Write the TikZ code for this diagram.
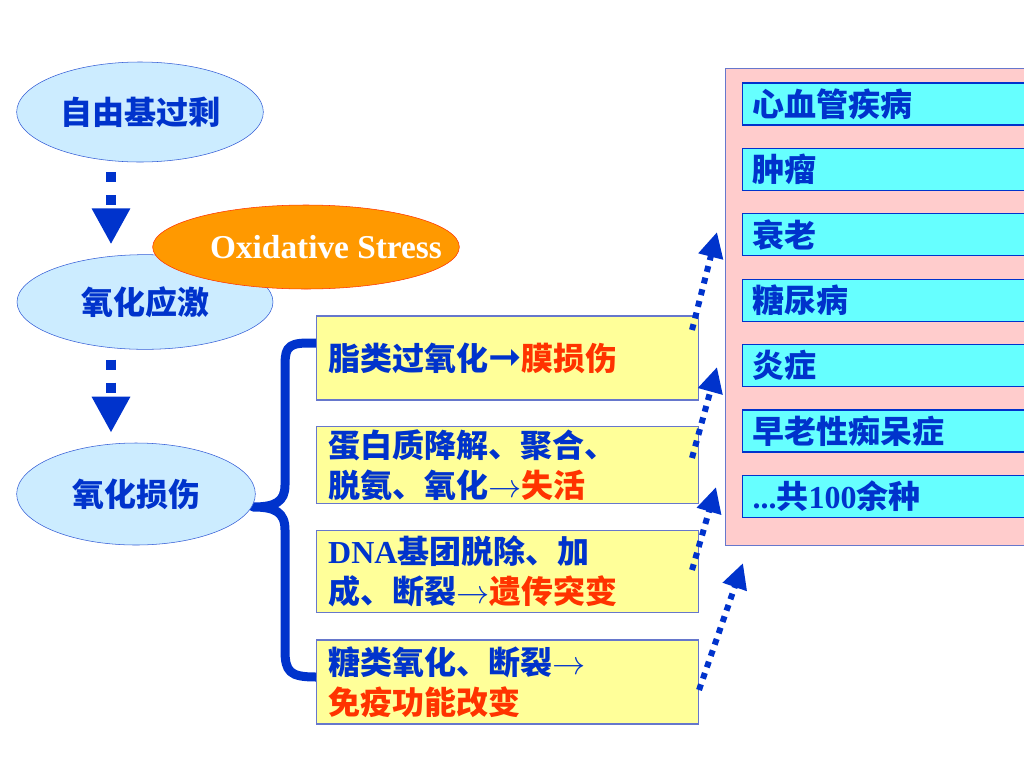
\documentclass[tikz,border=0pt]{standalone}
\usepackage{fontspec}
\setmainfont{Noto Sans CJK SC}
\newfontfamily\lat{Liberation Serif}
\newfontfamily\sym{DejaVu Sans}
\usetikzlibrary{shapes.geometric,arrows.meta}
\definecolor{tblue}{RGB}{0,51,204}
\definecolor{tred}{RGB}{255,51,0}
\definecolor{eblue}{RGB}{204,236,255}
\definecolor{oran}{RGB}{255,153,0}
\definecolor{ylw}{RGB}{255,255,153}
\definecolor{pnk}{RGB}{255,204,204}
\definecolor{cyn}{RGB}{102,255,255}
\definecolor{gblue}{RGB}{102,119,204}
\newcommand{\thinarr}{$\rightarrow$}

\begin{document}
\begin{tikzpicture}[x=0.75pt, y=-0.75pt,
	every node/.style={font=\bfseries\fontsize{24}{30}\selectfont, text=tblue},
	oval/.style={ellipse, draw=tblue!80, fill=eblue, thin},
	ybox/.style={rectangle, draw=gblue, fill=ylw, thick, minimum width=287pt, text width=269pt, inner xsep=9pt, inner ysep=2pt, align=left},
	cbox/.style={rectangle, draw=tblue, fill=cyn, thick, anchor=west, minimum height=31.5pt, text width=201pt, inner xsep=7.5pt, align=left},
	dnarrow/.style={draw=tblue, line width=7.5pt, dash pattern=on 7.5pt off 9.75pt, shorten <=7.5pt, shorten >=7.5pt, -{Triangle[length=27pt,width=27pt]}},
	dotarrow/.style={draw=tblue, line width=4.5pt, dash pattern=on 4.5pt off 4.5pt, -{Triangle[length=19pt,width=18pt]}}]
		\useasboundingbox (0,0) rectangle (1024,768);
		\fill[white] (0,0) rectangle (1024,768);
		
		\node[draw=gblue, fill=pnk, thick, anchor=north west, minimum width=229pt, minimum height=358pt] (dz) at (725,68){};
		\foreach \t [count=\i from 0] in {心血管疾病, 肿瘤, 衰老, 糖尿病, 炎症, 早老性痴呆症, {{\lat...}共{\lat 100}余种}}
			\node[cbox] (d\i) at (742, 104+65.4*\i){\t};
		
		\node[ybox, minimum height=63pt] (lip) at (507.5,358){脂类过氧化{\sym\mdseries\fontsize{30}{30}\selectfont ➞}\textcolor{tred}{膜损伤}};
		\node[ybox, minimum height=57pt] (pro) at (507.5,465){蛋白质降解、聚合、\\脱氨、氧化\thinarr\textcolor{tred}{失活}};
		\node[ybox, minimum height=62pt] (dna) at (507.5,571.5){{\lat DNA}基团脱除、加\\成、断裂\thinarr\textcolor{tred}{遗传突变}};
		\node[ybox, minimum height=63pt] (sug) at (507.5,682){糖类氧化、断裂\thinarr\\\textcolor{tred}{免疫功能改变}};
		
		\draw[tblue, line width=6.75pt, line join=round] (316,343) -- (308,343) .. controls (285,343) and (285,350) .. (285,370) -- (285,485) .. controls (285,502) and (275,507) .. (253,507) .. controls (275,507) and (285,512) .. (285,530) -- (285,650) .. controls (285,672) and (290,677) .. (316,677);
		
		\coordinate (s1) at (692,330); \coordinate (t1) at (717,232);
		\coordinate (s2) at (692,458); \coordinate (t2) at (717,367);
		\coordinate (s3) at (692,570); \coordinate (t3) at (716,487);
		\coordinate (s4) at (699,690); \coordinate (t4) at (743,563);
		\path[dotarrow] (s1) -- (t1);
		\path[dotarrow] (s2) -- (t2);
		\path[dotarrow] (s3) -- (t3);
		\path[dotarrow] (s4) -- (t4);
		
		\node[oval, minimum width=185pt, minimum height=75pt] (ox1) at (140,112){自由基过剩};
		\node[oval, minimum width=192pt, minimum height=71pt] (ox2) at (145,302){氧化应激};
		\node[oval, minimum width=179pt, minimum height=76.5pt] (ox3) at (136,494){氧化损伤};
		
		\path[dnarrow] ([xshift=-21.75pt]ox1.south) -- ([xshift=-21.75pt]ox1.south |- ox2.north);
		\path[dnarrow] ([xshift=-25.5pt]ox2.south) -- ([xshift=-25.5pt]ox2.south |- ox3.north);
		
		\node[ellipse, draw=tred, fill=oran, minimum width=230pt, minimum height=63pt] (os) at (306,247){};
		\node[text=white, font=\lat\bfseries\fontsize{25}{30}\selectfont] (ost) at ([xshift=15pt]os.center){Oxidative Stress};
\end{tikzpicture}
\end{document}
